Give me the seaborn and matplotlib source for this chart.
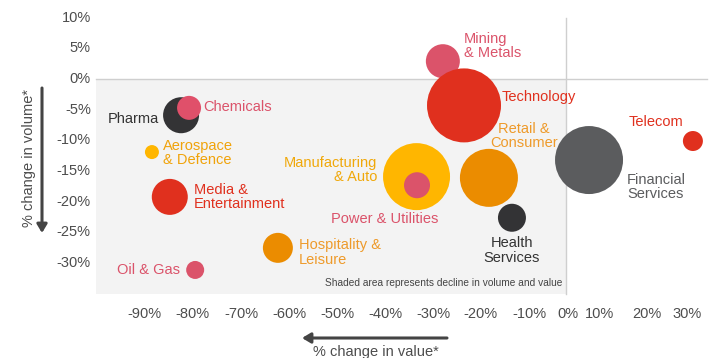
import matplotlib
matplotlib.use("Agg")
import matplotlib.pyplot as plt
from matplotlib.patches import Rectangle
import seaborn as sns
import pandas as pd

# ---------------- data ----------------
sectors = ["Pharma", "Chemicals", "Aerospace & Defence", "Media & Entertainment",
           "Oil & Gas", "Hospitality & Leisure", "Manufacturing & Auto",
           "Power & Utilities", "Retail & Consumer", "Mining & Metals",
           "Technology", "Health Services", "Financial Services", "Telecom"]
value_change = [-81.9, -80.2, -88.1, -84.3, -78.9, -61.3, -31.8,
                -31.7, -16.4, -26.2, -21.7, -11.5, 4.9, 27.0]
volume_change = [-5.9, -4.7, -11.9, -19.2, -31.1, -27.5, -15.9,
                 -17.3, -16.1, 2.9, -4.3, -22.6, -13.2, -10.1]
deal_size = [324, 144, 49, 324, 81, 225, 1122, 169, 841, 289, 1369, 196, 1156, 100]

bubble_colors = ["#333335", "#e0506a", "#ffb600", "#e0301e", "#db536a", "#eb8c00",
                 "#ffb600", "#db536a", "#eb8c00", "#db536a", "#e0301e", "#333335",
                 "#5b5c5e", "#e0301e"]
label_texts = ["Pharma", "Chemicals", "Aerospace\n& Defence", "Media &\nEntertainment",
               "Oil & Gas", "Hospitality &\nLeisure", "Manufacturing\n& Auto",
               "Power & Utilities", "Retail &\nConsumer", "Mining\n& Metals",
               "Technology", "Health\nServices", "Financial\nServices", "Telecom"]
label_colors = ["#333333", "#db536a", "#f0a30a", "#e0301e", "#db536a", "#ee9a2a",
                "#f0a80a", "#db536a", "#ee9a2a", "#db536a", "#e0301e", "#333333",
                "#5b5c5e", "#e0301e"]

x_ticks = [-90, -80, -70, -60, -50, -40, -30, -20, -10, 0, 10, 20, 30]
x_tick_labels = ["-90%", "-80%", "-70%", "-60%", "-50%", "-40%", "-30%",
                 "-20%", "-10%", "0%", "10%", "20%", "30%"]
y_ticks = [10, 5, 0, -5, -10, -15, -20, -25, -30]
y_tick_labels = ["10%", "5%", "0%", "-5%", "-10%", "-15%", "-20%", "-25%", "-30%"]

df = pd.DataFrame({"sector": sectors, "value": value_change,
                   "volume": volume_change, "size": deal_size})

# ---------------- layout ----------------
# label anchor positions (x, y, ha) in data units
label_pos = [(-86.6, -6.5, "right"), (-77.2, -4.6, "left"), (-85.7, -12.05, "left"),
             (-79.1, -19.2, "left"), (-82.1, -31.1, "right"), (-56.8, -28.3, "left"),
             (-40.2, -14.8, "right"), (-50.0, -22.8, "left"), (-8.9, -9.3, "center"),
             (-21.7, 5.4, "left"), (-13.6, -2.9, "left"), (-11.5, -27.9, "center"),
             (13.0, -17.6, "left"), (13.4, -7.0, "left")]
# where the original places its axis tick labels (drawn slightly off the tick marks)
x_label_at = [-89.6, -79.4, -69.1, -58.9, -48.7, -38.5, -28.1, -18.1, -7.7,
              0.4, 7.2, 17.2, 25.7]

sns.set_style("white")
plt.rcParams["font.family"] = ["Liberation Sans", "DejaVu Sans"]

W, H, DPI = 7.1, 3.58, 100
fig = plt.figure(figsize=(W, H), dpi=DPI)
ax = fig.add_axes([0, 0, 1, 1])
px_per_x = 4.7
px_per_y = 6.14
ax.set_xlim(-566 / px_per_x, (710 - 566) / px_per_x)
ax.set_ylim((79 - 358) / px_per_y, 79 / px_per_y)

# shaded quadrant
ax.add_patch(Rectangle((-100, -35), 100, 35, facecolor="#f3f3f3",
                       edgecolor="none", zorder=0))

# bubbles
pt_per_px = 72 / DPI
k = (2 * pt_per_px) ** 2
sns.scatterplot(data=df, x="value", y="volume", hue="sector",
                palette=dict(zip(sectors, bubble_colors)),
                size="size", sizes=(k * min(deal_size), k * max(deal_size)),
                linewidth=0, alpha=1, legend=False, ax=ax, zorder=3)

# axes through origin
for s in ["top", "right"]:
    ax.spines[s].set_visible(False)
ax.spines["left"].set_position(("data", 0))
ax.spines["bottom"].set_position(("data", 0))
ax.spines["left"].set_bounds(-35, 10)
ax.spines["bottom"].set_bounds(-100, 30)
for s in ["left", "bottom"]:
    ax.spines[s].set_color("#cfcfcf")
    ax.spines[s].set_linewidth(1.0)
    ax.spines[s].set_zorder(1)
ax.set_xticks([t for t in x_ticks if t != 0])
ax.set_yticks([t for t in y_ticks if t != 0])
ax.tick_params(axis="both", direction="inout", length=3, width=0.8,
               color="#cfcfcf", labelbottom=False, labelleft=False)
ax.set_xlabel("")
ax.set_ylabel("")

# tick labels
tick_col = "#4d4d4d"
for xp, lab in zip(x_label_at, x_tick_labels):
    ax.text(xp, -38.3, lab, ha="center", va="center", fontsize=10.5, color=tick_col)
for yp, lab in zip(y_ticks, y_tick_labels):
    ax.text(-101.1, yp, lab, ha="right", va="center", fontsize=10.5, color=tick_col)

# sector labels
for (lx, ly, ha), txt, col in zip(label_pos, label_texts, label_colors):
    ax.text(lx, ly, txt, ha=ha, va="center", multialignment=ha, fontsize=10.5,
            color=col, linespacing=1.05, zorder=5)

ax.text(-0.85, -33.2, "Shaded area represents decline in volume and value",
        ha="right", va="center", fontsize=7.3, color="#444444", zorder=5)

# axis titles with arrows (figure pixel coordinates)
def fx(px):
    return px / 710

def fy(py):
    return 1 - py / 358

arrow_kw = dict(arrowstyle="-|>,head_length=0.5,head_width=0.3",
                color="#444444", lw=2.2, shrinkA=0, shrinkB=0)
ax.annotate("", xy=(fx(42), fy(233)), xytext=(fx(42), fy(88)),
            xycoords="figure fraction", textcoords="figure fraction",
            arrowprops=arrow_kw)
ax.annotate("", xy=(fx(302), fy(338)), xytext=(fx(447), fy(338)),
            xycoords="figure fraction", textcoords="figure fraction",
            arrowprops=arrow_kw)
fig.text(fx(29), fy(158), "% change in volume*", rotation=90, ha="center",
         va="center", fontsize=10.5, color="#4d4d4d")
fig.text(fx(313), fy(352), "% change in value*", ha="left", va="center",
         fontsize=10.5, color="#4d4d4d")

fig.savefig("out.png", dpi=DPI, facecolor="white")
